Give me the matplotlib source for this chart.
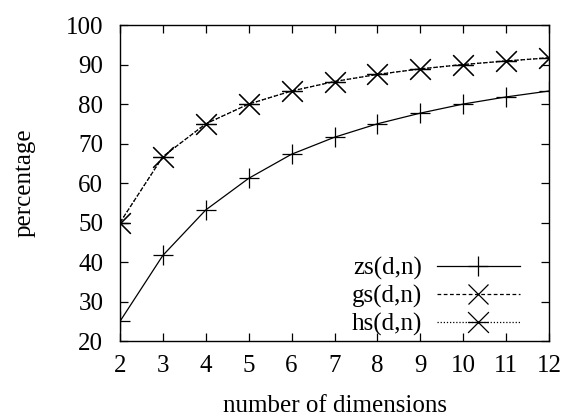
import numpy as np
from matplotlib import pyplot as plt
from matplotlib.path import Path

## DATA
dims = [2, 3, 4, 5, 6, 7, 8, 9, 10, 11, 12]
zs = [25.0, 41.7, 53.2, 61.2, 67.3, 71.6, 75.0, 77.7, 80.0, 81.8, 83.3]
gs = [50.0, 66.7, 75.0, 80.0, 83.3, 85.7, 87.5, 88.9, 90.0, 90.9, 91.7]
hs = [50.0, 66.7, 75.0, 80.0, 83.3, 85.7, 87.5, 88.9, 90.0, 90.9, 91.7]
xticks = list(range(2, 13))
yticks = list(range(20, 101, 10))

plt.rcParams['font.family'] = 'serif'
plt.rcParams['font.serif'] = ['Liberation Serif', 'DejaVu Serif']
plt.rcParams['font.size'] = 18

# gnuplot style asterisk: x with a horizontal bar
star = Path([(-1, -1), (1, 1), (-1, 1), (1, -1), (-1, 0), (1, 0)],
            [Path.MOVETO, Path.LINETO, Path.MOVETO, Path.LINETO, Path.MOVETO, Path.LINETO])

fig = plt.figure(figsize=(5.67, 4.17), dpi=100)
ax = fig.add_axes([0.2116, 0.182, 0.7567, 0.758])

ax.plot(dims, zs, color='black', linestyle='-', linewidth=0.9,
        marker='+', markersize=15, markeredgewidth=0.9, label='zs(d,n)')
ax.plot(dims, gs, color='black', linestyle=(0, (3, 2)), linewidth=0.9,
        marker='x', markersize=15, markeredgewidth=0.9, label='gs(d,n)')
ax.plot(dims, hs, color='black', linestyle=(0, (1, 1.5)), linewidth=0.9,
        marker=star, markersize=15, markeredgewidth=0.9, markerfacecolor='none',
        label='hs(d,n)')
ax.plot(dims, hs, color='black', linestyle='none',
        marker='_', markersize=15, markeredgewidth=0.9)

ax.set_xlim(2, 12)
ax.set_ylim(20, 100)
ax.set_xticks(xticks)
ax.set_yticks(yticks)
ax.tick_params(direction='in', length=6, width=0.9, top=True, right=True)
ax.tick_params(axis='x', pad=10)
ax.tick_params(axis='y', pad=12)
for s in ax.spines.values():
    s.set_linewidth(1.0)

ax.set_xlabel('number of dimensions', labelpad=13)
ax.set_ylabel('percentage', labelpad=22)

ax.legend(loc='lower right', frameon=False, markerfirst=False, handlelength=3.3,
          handletextpad=0.6, labelspacing=0.2, borderaxespad=0.0,
          bbox_to_anchor=(0.955, -0.016))

fig.savefig('out.png', dpi=100)
